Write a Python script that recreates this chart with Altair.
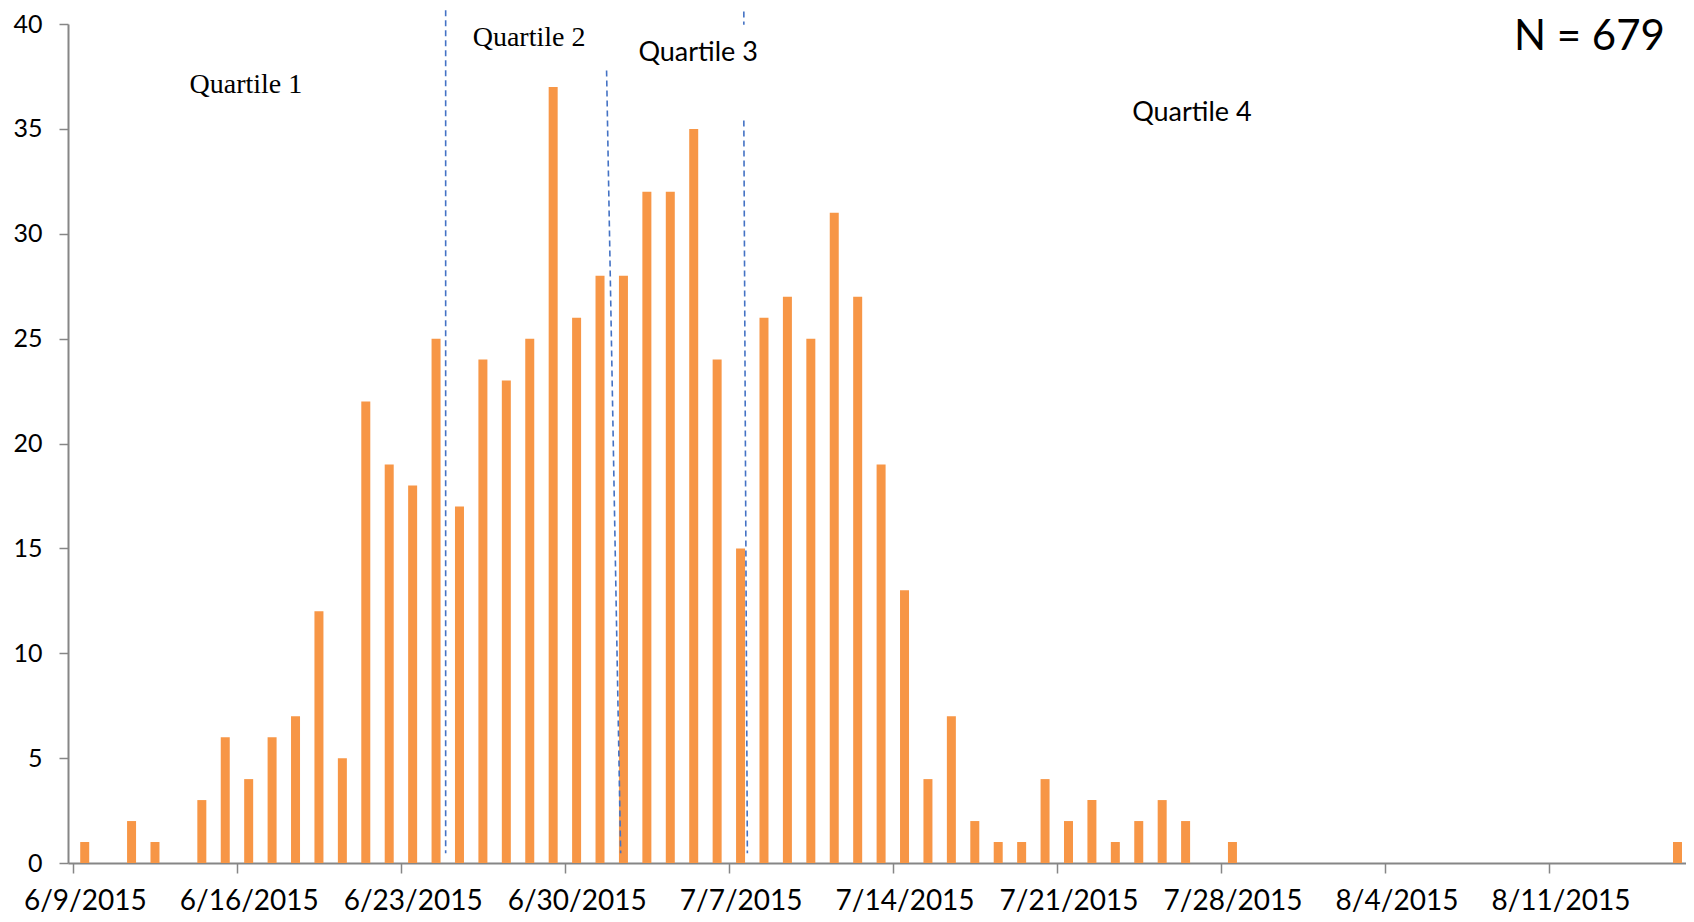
import altair as alt
import pandas as pd

# Daily counts starting 6/9/2015 (day index 0) through 8/16/2015 (day 68)
DAY_INDEX = list(range(69))
COUNTS = [1, 0, 2, 1, 0, 3, 6, 4, 6, 7, 12, 5, 22, 19, 18, 25,
          17, 24, 23, 25, 37, 26, 28, 28, 32, 32, 35, 24, 15, 26, 27, 25,
          31, 27, 19, 13, 4, 7, 2, 1, 1, 4, 2, 3, 1, 2, 3, 2,
          0, 1, 0, 0, 0, 0, 0, 0, 0, 0, 0, 0, 0, 0, 0, 0, 0, 0, 0, 0, 1]

TICK_DAYS = [0, 7, 14, 21, 28, 35, 42, 49, 56, 63]
TICK_LABELS = ["6/9/2015", "6/16/2015", "6/23/2015", "6/30/2015", "7/7/2015",
               "7/14/2015", "7/21/2015", "7/28/2015", "8/4/2015", "8/11/2015"]
Y_TICKS = [0, 5, 10, 15, 20, 25, 30, 35, 40]

# Quartile divider lines (day position, value) start/end
Q_X1 = [15.91, 22.78, 28.64, 28.64]
Q_X2 = [15.91, 23.38, 28.79, 28.64]
Q_Y1 = [40.65, 37.78, 35.4, 40.6]
Q_Y2 = [0.47, 0.47, 0.47, 39.96]

SERIF_LABELS = ["Quartile 1", "Quartile 2"]
SERIF_X = [7.38, 19.47]
SERIF_Y = [37.1, 39.35]
SANS_LABELS = ["Quartile 3", "Quartile  4"]
SANS_X = [26.69, 47.77]
SANS_Y = [38.62, 35.77]
N_LABEL = ["N = 679"]
N_X = [64.74]
N_Y = [39.4]

bars_df = pd.DataFrame({"day": [d + 0.5 for d in DAY_INDEX], "count": COUNTS})
bars_df = bars_df[bars_df["count"] > 0]
rules_df = pd.DataFrame({"x": Q_X1, "x2": Q_X2, "y": Q_Y1, "y2": Q_Y2})
serif_df = pd.DataFrame({"t": SERIF_LABELS, "x": SERIF_X, "y": SERIF_Y})
sans_df = pd.DataFrame({"t": SANS_LABELS, "x": SANS_X, "y": SANS_Y})
n_df = pd.DataFrame({"t": N_LABEL, "x": N_X, "y": N_Y})

label_list = "[" + ",".join("'%s'" % s for s in TICK_LABELS) + "]"

xscale = alt.Scale(domain=[0, 68.65], nice=False, zero=False)
yscale = alt.Scale(domain=[0, 40], nice=False)

bars = alt.Chart(bars_df).mark_bar(color="#F79646", width=9).encode(
    x=alt.X("day:Q", scale=xscale, title=None,
            axis=alt.Axis(values=TICK_DAYS, labelExpr=label_list + "[round(datum.value/7)]",
                          grid=False, tickSize=10, tickWidth=1.5, tickColor="#868686",
                          domainColor="#868686", domainWidth=2,
                          labelFont="Lato", labelFontSize=28, labelColor="#000000",
                          labelPadding=14, labelOffset=11.8,
                          labelFlush=False, labelOverlap=False)),
    y=alt.Y("count:Q", scale=yscale, title=None,
            axis=alt.Axis(values=Y_TICKS, grid=False, tickSize=9, tickWidth=1.5,
                          tickColor="#868686", domainColor="#868686", domainWidth=2,
                          labelFont="Lato", labelFontSize=25, labelColor="#000000",
                          labelPadding=17)),
)

rules = alt.Chart(rules_df).mark_rule(color="#4472C4", strokeWidth=1.6, strokeDash=[6, 4]).encode(
    x=alt.X("x:Q", scale=xscale), x2="x2:Q",
    y=alt.Y("y:Q", scale=yscale), y2="y2:Q",
)

serif_text = alt.Chart(serif_df).mark_text(font="Liberation Serif", fontSize=28, color="#000000",
                                           align="center", baseline="middle").encode(
    x=alt.X("x:Q", scale=xscale), y=alt.Y("y:Q", scale=yscale), text="t:N")

sans_text = alt.Chart(sans_df).mark_text(font="Lato", fontSize=27, color="#000000",
                                         align="center", baseline="middle").encode(
    x=alt.X("x:Q", scale=xscale), y=alt.Y("y:Q", scale=yscale), text="t:N")

n_text = alt.Chart(n_df).mark_text(font="Lato", fontSize=42, color="#000000",
                                   align="center", baseline="middle").encode(
    x=alt.X("x:Q", scale=xscale), y=alt.Y("y:Q", scale=yscale), text="t:N")

chart = alt.layer(bars, rules, serif_text, sans_text, n_text).properties(
    width=1618, height=839,
    autosize=alt.AutoSizeParams(type="none"),
    padding={"left": 60, "top": 16, "right": 0, "bottom": 58},
    background="#ffffff",
).configure_view(stroke=None)

chart.save("out.html", embed_options={"renderer": "svg", "actions": False})
